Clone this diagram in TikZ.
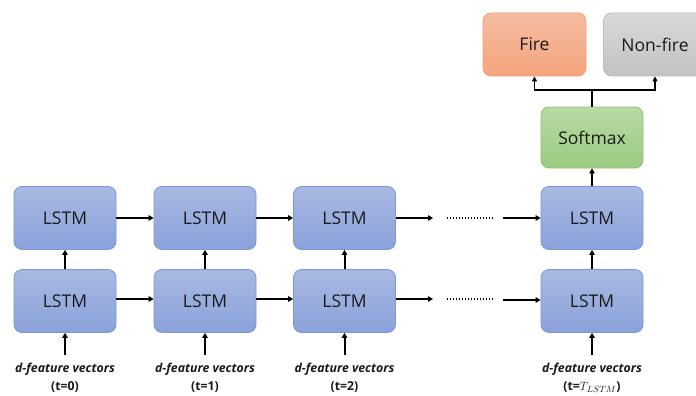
\documentclass[tikz,border=0pt]{standalone}
\usepackage{fontspec}
\setmainfont{Open Sans}
\usetikzlibrary{arrows.meta}

\definecolor{lstmTop}{HTML}{A9B9E2}
\definecolor{lstmBot}{HTML}{8AA1DA}
\definecolor{lstmLine}{HTML}{7C97D6}
\definecolor{smTop}{HTML}{B8DAA4}
\definecolor{smBot}{HTML}{9CCB80}
\definecolor{smLine}{HTML}{8EC273}
\definecolor{fireTop}{HTML}{F6BCA0}
\definecolor{fireBot}{HTML}{F4A47E}
\definecolor{fireLine}{HTML}{F0A275}
\definecolor{nfTop}{HTML}{D9D9D9}
\definecolor{nfBot}{HTML}{C2C2C2}
\definecolor{nfLine}{HTML}{BDBDBD}
\definecolor{ink}{HTML}{1A1A1A}

\tikzset{
  box/.style={rounded corners=8pt, minimum width=102pt, minimum height=63pt,
    line width=0.8pt, font=\fontsize{17.5}{20}\selectfont, text=ink, inner sep=0pt},
  lstm/.style={box, draw=lstmLine, top color=lstmTop, bottom color=lstmBot},
  softbox/.style={box, draw=smLine, top color=smTop, bottom color=smBot, minimum height=61pt},
  firebox/.style={box, draw=fireLine, top color=fireTop, bottom color=fireBot, minimum width=103pt},
  nfbox/.style={box, draw=nfLine, top color=nfTop, bottom color=nfBot, minimum width=103pt},
  arr/.style={line width=2pt, -{Triangle[length=5pt,width=5.5pt]}},
  thinarr/.style={line width=1.6pt, -{Triangle[length=5pt,width=5pt]}},
  dots/.style={line width=2pt, dash pattern=on 1.4pt off 1.6pt},
  lab/.style={align=center, font=\fontsize{12.3}{18}\selectfont, text=ink, inner sep=0pt}
}

\begin{document}
\begin{tikzpicture}[x=1pt, y=-1pt]
  \fill[white] (0,0) rectangle (696,396);
  \useasboundingbox (0,0) rectangle (696,396);

  % two stacked LSTM layers, four time steps
  \node[lstm] (t1) at (65,218) {LSTM};
  \node[lstm] (t2) at (205,218) {LSTM};
  \node[lstm] (t3) at (344.5,218) {LSTM};
  \node[lstm] (t4) at (592,218) {LSTM};
  \node[lstm] (b1) at (65,301) {LSTM};
  \node[lstm] (b2) at (205,301) {LSTM};
  \node[lstm] (b3) at (344.5,301) {LSTM};
  \node[lstm] (b4) at (592,301) {LSTM};

  % classifier head
  \node[softbox] (sm) at (592,137.5) {Softmax};
  \node[firebox] (fire) at (534.5,44.5) {Fire};
  \begin{scope}
    \clip (0,0) rectangle (696,396);
    \node[nfbox] (nf) at (655,44.5) {Non-fire};
  \end{scope}

  % recurrent connections
  \draw[arr] (t1) -- (t2);
  \draw[arr] (t2) -- (t3);
  \draw[arr] (b1.east |- 0,299) -- (b2.west |- 0,299);
  \draw[arr] (b2.east |- 0,299) -- (b3.west |- 0,299);
  \coordinate (ta) at (433,218);
  \coordinate (tb) at (503,218);
  \coordinate (ba) at (433,299);
  \coordinate (bb) at (503,300);
  \draw[arr] (t3.east) -- (ta);
  \draw[arr] (b3.east |- ba) -- (ba);
  \draw[dots] (447,218) -- (493,218);
  \draw[dots] (447,299) -- (493,299);
  \draw[arr] (tb) -- (t4.west);
  \draw[arr] (bb) -- (b4.west |- bb);

  % layer-to-layer connections
  \foreach \i in {1,2,3,4} {
    \draw[arr] (b\i.north) -- (t\i.south);
  }

  % inputs
  \foreach \i/\x/\t in {1/65/{(t=0)}, 2/205/{(t=1)}, 3/344.5/{(t=2)}} {
    \coordinate (in\i) at (\x,355);
    \draw[arr] (in\i) -- (b\i.south);
    \node[lab] (l\i) at (\x,378) {\textbf{\textit{d-feature vectors}}\\\textbf{\t}};
  }
  \coordinate (in4) at (592,355);
  \draw[arr] (in4) -- (b4.south);
  \node[lab] (l4) at (592,378) {\textbf{\textit{d-feature vectors}}\\\textbf{(t=}$T_{LSTM}$\textbf{)}};

  % output branches
  \draw[arr] (t4.north) -- (sm.south);
  \coordinate (j) at (592,90);
  \draw[line width=1.6pt] (sm.north) -- (j);
  \draw[thinarr] (j) -| (fire.south);
  \draw[thinarr] (j) -| (nf.south);
\end{tikzpicture}
\end{document}
